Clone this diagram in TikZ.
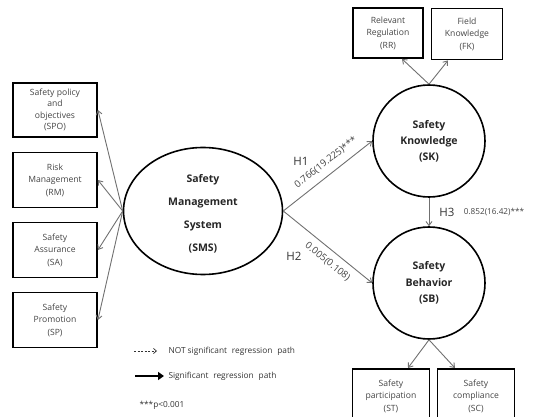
\documentclass[tikz,border=0pt]{standalone}
\usepackage{fontspec}
\setmainfont{Open Sans}[BoldFont={Open Sans Bold}]
\usetikzlibrary{arrows.meta,shapes.geometric}
\definecolor{txt}{HTML}{444444}
\definecolor{ln}{HTML}{707070}
\tikzset{
  ind/.style={draw=black, line width=1.8pt, rectangle, align=center, text=txt,
    font=\fontsize{8.6}{12.5}\selectfont, inner sep=1pt},
  latent/.style={draw=black, line width=1.6pt, align=center, text=black!85,
    inner sep=0pt},
  conn/.style={draw=ln, line width=0.9pt, -{Straight Barb[length=4pt,width=6pt]}},
  coef/.style={font=\fontsize{8.2}{9}\selectfont, text=txt},
  scoef/.style={font=\fontsize{9.6}{10}\selectfont, text=txt, sloped, inner sep=1pt},
  hyp/.style={font=\fontsize{11.5}{13}\selectfont, text=black!80},
  leg/.style={font=\fontsize{8.3}{10}\selectfont, text=black!80, anchor=west},
}
\begin{document}
\begin{tikzpicture}[x=1pt,y=-1pt]
\useasboundingbox (0,0) rectangle (536,417);
% indicators left
\node[ind, minimum width=84pt, minimum height=54pt, font=\fontsize{8.6}{11.5}\selectfont] (spo) at (55,110) {Safety policy\\and\\objectives\\(SPO)};
\node[ind, minimum width=84pt, minimum height=55pt] (rm) at (55,180) {Risk\\Management\\(RM)};
\node[ind, minimum width=84pt, minimum height=55pt] (sa) at (55,250) {Safety\\Assurance\\(SA)};
\node[ind, minimum width=84pt, minimum height=55pt] (sp) at (55,320) {Safety\\Promotion\\(SP)};
% latent
\node[latent, ellipse, minimum width=159pt, minimum height=127pt, font=\fontsize{10.5}{23}\selectfont\bfseries] (sms) at (203,211) {};
\node[font=\fontsize{10.5}{23}\selectfont\bfseries, text=black!85, align=center] (smslbl) at (203,214) {Safety\\Management\\System\\(SMS)};
\node[latent, circle, minimum size=112pt, font=\fontsize{10.5}{16}\selectfont\bfseries] (sk) at (429,141) {Safety\\Knowledge\\(SK)};
\node[latent, circle, minimum size=112pt, font=\fontsize{10.5}{16.5}\selectfont\bfseries] (sb) at (429,283) {Safety\\Behavior\\(SB)};
% top indicators
\node[ind, minimum width=70pt, minimum height=50pt] (rr) at (388,33) {Relevant\\Regulation\\(RR)};
\node[ind, minimum width=71pt, minimum height=51pt] (fk) at (467,34) {Field\\Knowledge\\(FK)};
% bottom indicators
\node[ind, minimum width=77pt, minimum height=54pt, anchor=north] (st) at (391,368) {Safety\\participation\\(ST)};
\node[ind, minimum width=77pt, minimum height=54pt, anchor=north] (sc) at (476,368) {Safety\\compliance\\(SC)};
% connectors
\draw[conn] (sms.west) -- (spo.east);
\draw[conn] (sms.west) -- (rm.east);
\draw[conn] (sms.west) -- (sa.east);
\draw[conn] (sms.west) -- (sp.east);
\draw[conn] (sk.north) -- (rr.south -| 402,0);
\draw[conn] (sk.north) -- (fk.south -| 448,0);
\draw[conn] (sb.south) -- (st.north -| 408,0);
\draw[conn] (sb.south) -- (sc.north -| 455,0);
\draw[conn] (sms.east) -- node[scoef, above=6pt, pos=0.56] {0.766(19.225)***} (sk.west);
\draw[conn] (sms.east) -- node[scoef, below=6pt, pos=0.58] {0.005(0.108)} (sb.west);
\draw[conn] (sk.south) -- (sb.north);
% labels
\node[hyp] (h1) at (301,161) {H1};
\node[hyp] (h2) at (294,256) {H2};
\node[hyp] (h3) at (447,212) {H3};
\node[coef] (c3) at (494,212) {0.852(16.42)***};
% legend
\coordinate (d1) at (134,351);
\coordinate (d2) at (157,351);
\draw[black!80, line width=0.7pt, dashed, dash pattern=on 2pt off 1.5pt, -{Straight Barb[length=3pt,width=5pt]}] (d1) -- (d2);
\node[leg] (l1) at (165,351) {NOT significant\,\, regression\,\, path};
\coordinate (t1) at (135,376);
\coordinate (t2) at (164,376);
\draw[black, line width=2pt, -{Triangle[length=6pt,width=8pt]}] (t1) -- (t2);
\node[leg] (l2) at (165,376) {Significant\,\, regression\,\, path};
\node[leg] (l3) at (136,405) {***p<0.001};
\end{tikzpicture}
\end{document}
